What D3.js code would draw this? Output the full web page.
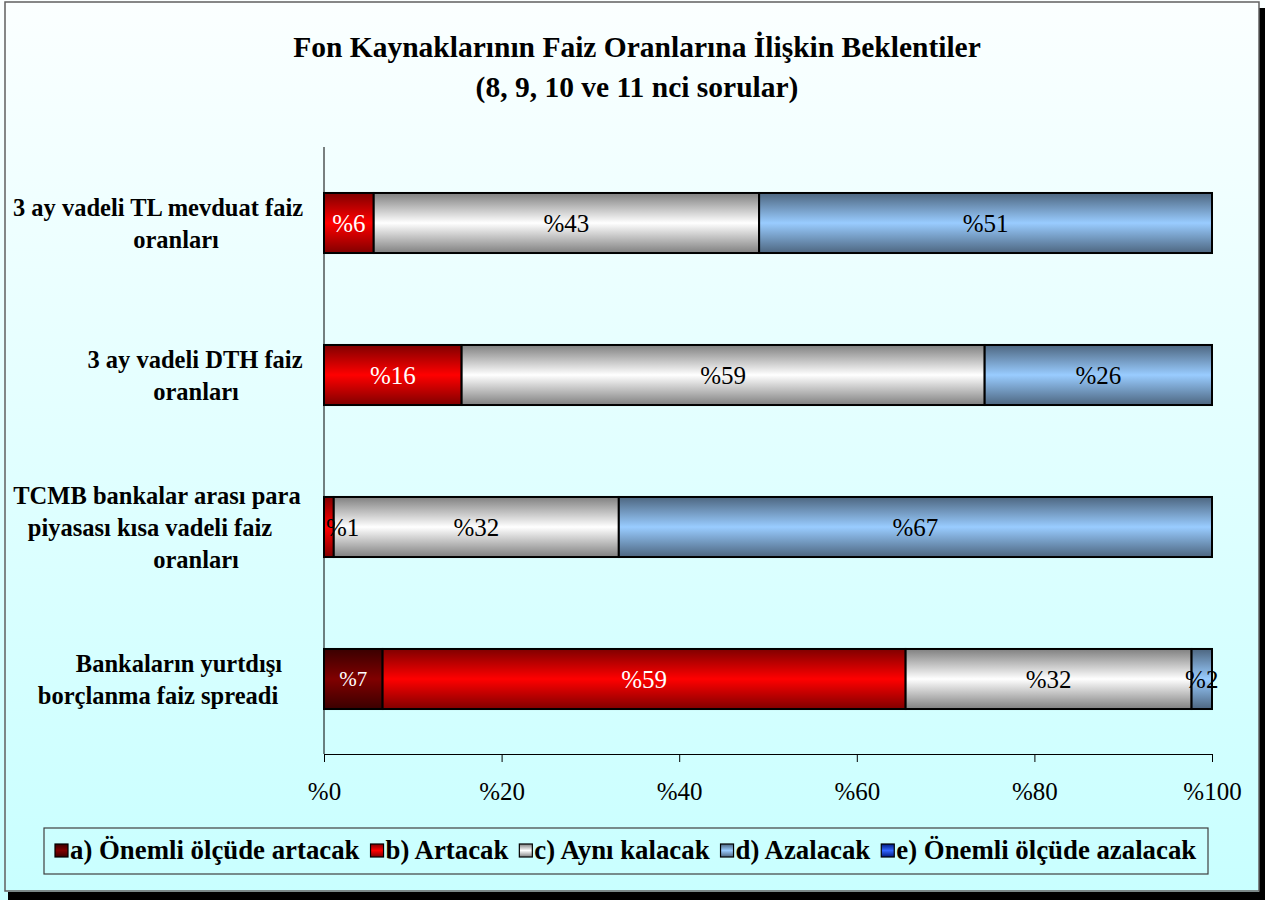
<!DOCTYPE html>
<html>
<head>
<meta charset="utf-8">
<script src="https://cdn.jsdelivr.net/npm/d3@7"></script>
<style>
  body { margin: 0; background: #fff; }
  svg text { font-family: "Liberation Serif", "Times New Roman", serif; }
</style>
</head>
<body>
<script>
// chart data
var categories = ["tl", "dth", "tcmb", "spread"];
var categoryLines = [
    ["3 ay vadeli TL mevduat faiz", "oranları"],
    ["3 ay vadeli DTH faiz", "oranları"],
    ["TCMB bankalar arası para", "piyasası kısa vadeli faiz", "oranları"],
    ["Bankaların yurtdışı", "borçlanma faiz spreadi"]
];
var seriesNames = ["a) Önemli ölçüde artacak", "b) Artacak", "c) Aynı kalacak", "d) Azalacak", "e) Önemli ölçüde azalacak"];
var seriesA = [0, 0, 0, 6.6];
var seriesB = [5.6, 15.5, 1.1, 58.9];
var seriesC = [43.4, 58.9, 32.1, 32.2];
var seriesD = [51.0, 25.6, 66.8, 2.3];
var seriesE = [0, 0, 0, 0];
var xTicks = [0, 20, 40, 60, 80, 100];

var width = 1265,
    height = 900;

var rows = categories.map(function(c, i) {
    return { cat: c, a: seriesA[i], b: seriesB[i], c: seriesC[i], d: seriesD[i], e: seriesE[i] };
});
var keys = ["a", "b", "c", "d", "e"];

var svg = d3.select("body")
    .append("svg")
    .attr("width", width)
    .attr("height", height);

var defs = svg.append("defs");

// background
var bg = defs.append("linearGradient").attr("id", "bg")
    .attr("x1", 0).attr("y1", 0).attr("x2", 0).attr("y2", 1);
bg.append("stop").attr("offset", "0%").attr("stop-color", "#fbffff");
bg.append("stop").attr("offset", "100%").attr("stop-color", "#c8ffff");

// bar gradients: dark edges, light middle
var grads = {
    a: ["#3a0000", "#800000"],
    b: ["#800000", "#ff0000"],
    c: ["#808080", "#ffffff"],
    d: ["#4d6680", "#99ccff"],
    e: ["#001a80", "#3366ff"]
};
keys.forEach(function(k) {
    var g = defs.append("linearGradient").attr("id", "g" + k)
        .attr("x1", 0).attr("y1", 0).attr("x2", 0).attr("y2", 1);
    g.append("stop").attr("offset", "0%").attr("stop-color", grads[k][0]);
    g.append("stop").attr("offset", "50%").attr("stop-color", grads[k][1]);
    g.append("stop").attr("offset", "100%").attr("stop-color", grads[k][0]);
});

svg.append("rect")
    .attr("width", width).attr("height", height)
    .attr("fill", "url(#bg)");

// frame + shadow
svg.append("rect").attr("x", 8).attr("y", 892).attr("width", width - 8).attr("height", 8).attr("fill", "#000");
svg.append("rect").attr("x", 1259).attr("y", 8).attr("width", 6).attr("height", height - 8).attr("fill", "#000");
svg.append("rect")
    .attr("x", 5).attr("y", 2).attr("width", 1254).attr("height", 889)
    .attr("fill", "none").attr("stroke", "#606060").attr("stroke-width", 1.5);

// title
svg.append("text")
    .attr("x", 637).attr("y", 57)
    .attr("text-anchor", "middle")
    .style("font-size", "29.5px").style("font-weight", "bold")
    .text("Fon Kaynaklarının Faiz Oranlarına İlişkin Beklentiler");
svg.append("text")
    .attr("x", 637).attr("y", 97)
    .attr("text-anchor", "middle")
    .style("font-size", "29.5px").style("font-weight", "bold")
    .text("(8, 9, 10 ve 11 nci sorular)");

var x = d3.scaleLinear().domain([0, 100]).range([324, 1212]);
var y = d3.scaleBand().domain(categories).range([147, 755])
    .paddingInner(0.605).paddingOuter(0.3025);

var stack = d3.stack().keys(keys);
var layers = stack(rows);

var layerG = svg.selectAll("g.layer")
    .data(layers)
    .enter()
    .append("g")
    .attr("class", "layer")
    .attr("fill", function(d) { return "url(#g" + d.key + ")"; });

layerG.selectAll("rect")
    .data(function(d) { return d.filter(function(p) { return p[1] - p[0] > 0; }); })
    .enter()
    .append("rect")
    .attr("x", function(d) { return x(d[0]); })
    .attr("y", function(d) { return y(d.data.cat); })
    .attr("width", function(d) { return x(d[1]) - x(d[0]); })
    .attr("height", y.bandwidth())
    .attr("stroke", "#000")
    .attr("stroke-width", 2);

// value labels, pushed inside the plot area when too close to the left edge
layers.forEach(function(layer) {
    var k = layer.key;
    svg.append("g").selectAll("text")
        .data(layer.filter(function(p) { return p[1] - p[0] > 0; }))
        .enter()
        .append("text")
        .attr("y", function(d) { return y(d.data.cat) + y.bandwidth() / 2; })
        .attr("dy", "0.35em")
        .attr("text-anchor", "middle")
        .attr("fill", (k === "a" || k === "b") ? "#fff" : "#000")
        .style("font-size", k === "a" ? "21px" : "25px")
        .text(function(d) { return "%" + Math.round(d[1] - d[0]); })
        .each(function(d) {
            var w = this.getComputedTextLength();
            var cx = (x(d[0]) + x(d[1])) / 2;
            var minX = x(0) + w / 2 + 2;
            if (cx < minX) {
                cx = minX;
                d3.select(this).attr("fill", "#000");
            }
            d3.select(this).attr("x", cx);
        });
});

// axes
var xAxis = d3.axisBottom(x)
    .tickValues(xTicks)
    .tickSize(8)
    .tickSizeOuter(0)
    .tickPadding(20)
    .tickFormat(function(d) { return "%" + d; });

var gx = svg.append("g")
    .attr("transform", "translate(0,754)")
    .call(xAxis);
gx.select(".domain").attr("stroke", "#000");
gx.selectAll(".tick line").attr("stroke", "#000");
gx.selectAll(".tick text")
    .attr("fill", "#000")
    .style("font-family", "'Liberation Serif', 'Times New Roman', serif")
    .style("font-size", "25px");

svg.append("line")
    .attr("x1", x(0)).attr("x2", x(0))
    .attr("y1", 147).attr("y2", 754)
    .attr("stroke", "#000");

// category labels (centre of each wrapped line)
var lineCenters = [[158, 176], [195, 196], [157, 150, 196], [179, 158]];
categoryLines.forEach(function(lines, i) {
    var cy = y(categories[i]) + y.bandwidth() / 2;
    var lh = 32;
    var top = cy - (lines.length - 1) * lh / 2;
    lines.forEach(function(t, j) {
        svg.append("text")
            .attr("x", lineCenters[i][j])
            .attr("y", top + j * lh)
            .attr("dy", "0.35em")
            .attr("text-anchor", "middle")
            .style("font-size", "24.5px").style("font-weight", "bold")
            .text(t);
    });
});

// legend
var legend = svg.append("g");
legend.append("rect")
    .attr("x", 44).attr("y", 828).attr("width", 1164).attr("height", 46)
    .attr("fill", "none").attr("stroke", "#404040").attr("stroke-width", 1.2);

var lx = 55;
keys.forEach(function(k, i) {
    legend.append("rect")
        .attr("x", lx).attr("y", 844).attr("width", 13).attr("height", 13)
        .attr("fill", "url(#g" + k + ")")
        .attr("stroke", "#000").attr("stroke-width", 1.2);
    var t = legend.append("text")
        .attr("x", lx + 15).attr("y", 859)
        .style("font-size", "26.8px").style("font-weight", "bold")
        .text(seriesNames[i]);
    lx += 15 + t.node().getComputedTextLength() + 11;
});
</script>
</body>
</html>
